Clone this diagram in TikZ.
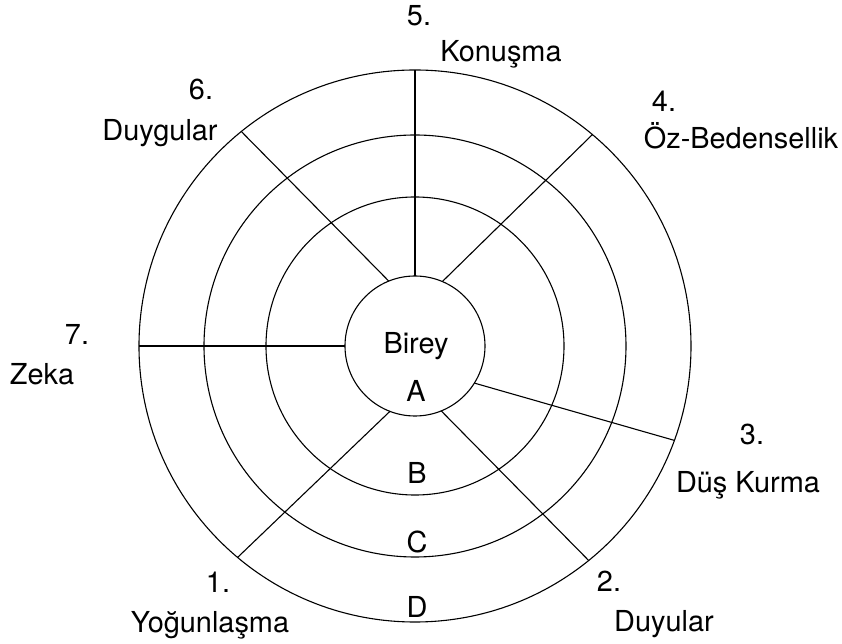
\documentclass[tikz,border=0pt]{standalone}
\usepackage{fontspec}
\setmainfont{TeX Gyre Heros}

\begin{document}
\begin{tikzpicture}[x=1bp, y=1bp, line width=1.1bp,
    ring/.style={draw, circle, inner sep=0pt, outer sep=0pt},
    lbl/.style={anchor=base, inner sep=0pt, font=\fontsize{29}{34}\selectfont}]
    % Diagram: four rings round "Birey", seven spokes, numbered labels outside.
    % Coordinates in bp, centre (0,0):
    %   rings r = 70 (A), 149 (B), 211 (C), 276 (D)
    %   spokes run from the inner ring to the outer ring (angle/angle)
    \useasboundingbox (-415,-298) rectangle (427,346);
    \node[ring, minimum size=140bp] (ringA) at (0,0) {};
    \node[ring, minimum size=298bp] (ringB) at (0,0) {};
    \node[ring, minimum size=422bp] (ringC) at (0,0) {};
    \node[ring, minimum size=552bp] (ringD) at (0,0) {};
    % spokes
    \foreach \a/\b in {90/90, 180/180, 112/129.5, 67/50.5,
                       249/230.5, 292/309.5, 328.5/340.7}
      \draw (ringA.\a) -- (ringD.\b);
    % ring letters
    \node[lbl] (birey) at (1,-8) {Birey};
    \node[lbl] (letA) at (1,-56) {A};
    \node[lbl] (letB) at (2,-138) {B};
    \node[lbl] (letC) at (2,-207) {C};
    \node[lbl] (letD) at (2,-271) {D};
    % outer labels
    \node[lbl] (num5) at (4,320) {5.};
    \node[lbl] (txt5) at (86,284) {Konuşma};
    \node[lbl] (num4) at (249,234) {4.};
    \node[lbl] (txt4) at (326,197) {Öz-Bedensellik};
    \node[lbl] (num6) at (-214,246) {6.};
    \node[lbl] (txt6) at (-255,205) {Duygular};
    \node[lbl] (num7) at (-338,1) {7.};
    \node[lbl] (txt7) at (-373,-39) {Zeka};
    \node[lbl] (num3) at (337,-99) {3.};
    \node[lbl] (txt3) at (333,-147) {Düş Kurma};
    \node[lbl] (num1) at (-197,-246) {1.};
    \node[lbl] (txt1) at (-205,-286) {Yoğunlaşma};
    \node[lbl] (num2) at (194,-245) {2.};
    \node[lbl] (txt2) at (249,-285) {Duyular};
\end{tikzpicture}
\end{document}
